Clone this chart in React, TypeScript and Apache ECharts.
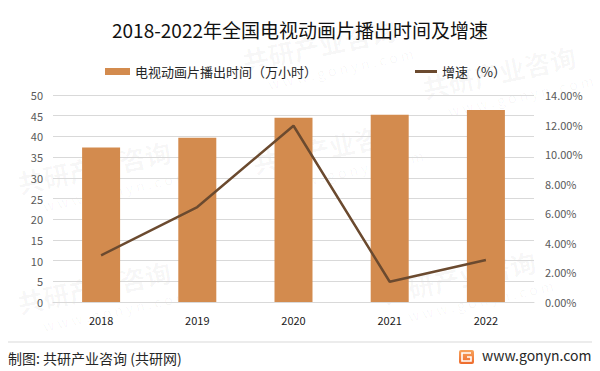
import React, { useEffect, useRef } from "react";
import * as echarts from "echarts";

const years = ["2018", "2019", "2020", "2021", "2022"];
const broadcastHours = [37.3, 39.7, 44.5, 45.2, 46.4];
const growthRate = [3.16, 6.42, 11.92, 1.37, 2.84];
const leftTicks = [0, 50, 5];
const rightTicks = [0, 14, 2];

const FONT = '"Noto Sans CJK SC", "Noto Sans", sans-serif';

function watermark(x: number, y: number) {
  return {
    type: "group",
    x,
    y,
    rotation: (12 * Math.PI) / 180,
    silent: true,
    z: 0,
    children: [
      {
        type: "text",
        x: 0,
        y: 0,
        style: {
          text: "共研产业咨询",
          font: `bold 26px ${FONT}`,
          fill: "rgba(0,0,0,0.035)",
        },
      },
      {
        type: "text",
        x: 20,
        y: 34,
        style: {
          text: "w w w . g o n y n . c o m",
          font: `14px ${FONT}`,
          fill: "rgba(0,0,0,0.035)",
        },
      },
    ],
  };
}

export default function App() {
  const ref = useRef<HTMLDivElement>(null);
  useEffect(() => {
    if (!ref.current) return;
    const chart = echarts.init(ref.current, null, { renderer: "svg" });
    const legendText = { fontFamily: FONT, fontSize: 13, color: "#262626" };
    chart.setOption({
      animation: false,
      backgroundColor: "#ffffff",
      title: {
        text: "2018-2022年全国电视动画片播出时间及增速",
        left: "center",
        top: 15,
        textStyle: {
          fontFamily: FONT,
          fontSize: 19,
          fontWeight: "normal",
          color: "#111111",
        },
      },
      legend: [
        {
          top: 60,
          left: 100,
          itemWidth: 25,
          itemHeight: 7,
          itemGap: 4,
          textStyle: legendText,
          data: [{ name: "电视动画片播出时间（万小时）", icon: "rect" }],
        },
        {
          top: 60,
          left: 410,
          itemWidth: 22,
          itemHeight: 3,
          textStyle: legendText,
          data: [{ name: "增速（%）", icon: "rect" }],
        },
      ],
      grid: { left: 53, right: 66, top: 95, bottom: 69 },
      xAxis: {
        type: "category",
        data: years,
        axisTick: { show: false },
        axisLine: { lineStyle: { color: "#d9d9d9" } },
        axisLabel: {
          fontFamily: FONT,
          fontSize: 11,
          color: "#1a1a1a",
          margin: 12,
        },
      },
      yAxis: [
        {
          type: "value",
          min: leftTicks[0],
          max: leftTicks[1],
          interval: leftTicks[2],
          axisLine: { show: false },
          axisTick: { show: false },
          splitLine: { lineStyle: { color: "#d9d9d9" } },
          axisLabel: {
            fontFamily: FONT,
            fontSize: 11,
            color: "#595959",
            margin: 10,
          },
        },
        {
          type: "value",
          min: rightTicks[0],
          max: rightTicks[1],
          interval: rightTicks[2],
          axisLine: { show: false },
          axisTick: { show: false },
          splitLine: { show: false },
          axisLabel: {
            fontFamily: FONT,
            fontSize: 11,
            color: "#595959",
            margin: 11,
            formatter: (v: number) => v.toFixed(2) + "%",
          },
        },
      ],
      series: [
        {
          name: "电视动画片播出时间（万小时）",
          type: "bar",
          data: broadcastHours,
          barWidth: 38,
          itemStyle: { color: "#D38B4E" },
          z: 2,
        },
        {
          name: "增速（%）",
          type: "line",
          yAxisIndex: 1,
          data: growthRate,
          symbol: "none",
          lineStyle: { color: "#6B4A2F", width: 2.5 },
          itemStyle: { color: "#6B4A2F" },
          z: 3,
        },
      ],
      graphic: [
        watermark(240, 48),
        watermark(15, 170),
        watermark(250, 150),
        watermark(15, 290),
        watermark(380, 280),
        watermark(420, 75),
        {
          type: "line",
          shape: { x1: 8, y1: 342, x2: 592, y2: 342 },
          style: { stroke: "#d9d9d9", lineWidth: 1 },
          silent: true,
        },
        {
          type: "text",
          x: 8,
          y: 351,
          style: {
            text: "制图: 共研产业咨询 (共研网)",
            font: `14px ${FONT}`,
            fill: "#262626",
          },
        },
        {
          type: "rect",
          shape: { x: 459, y: 350, width: 15, height: 14, r: 2 },
          style: {
            fill: {
              type: "linear",
              x: 0,
              y: 0,
              x2: 0,
              y2: 1,
              colorStops: [
                { offset: 0, color: "#F7A35C" },
                { offset: 1, color: "#EE6B2D" },
              ],
            },
          },
        },
        {
          type: "polyline",
          shape: {
            points: [
              [471, 353],
              [462, 353],
              [462, 361],
              [471, 361],
              [471, 357],
              [467, 357],
            ],
          },
          style: { stroke: "#ffffff", lineWidth: 1.6, fill: null },
        },
        {
          type: "text",
          x: 482,
          y: 348,
          style: {
            text: "www.gonyn.com",
            font: `14px ${FONT}`,
            fill: "#262626",
          },
        },
      ],
    });
    return () => chart.dispose();
  }, []);
  return (
    <div
      ref={ref}
      style={{ position: "fixed", left: 0, top: 0, width: 600, height: 371 }}
    />
  );
}
